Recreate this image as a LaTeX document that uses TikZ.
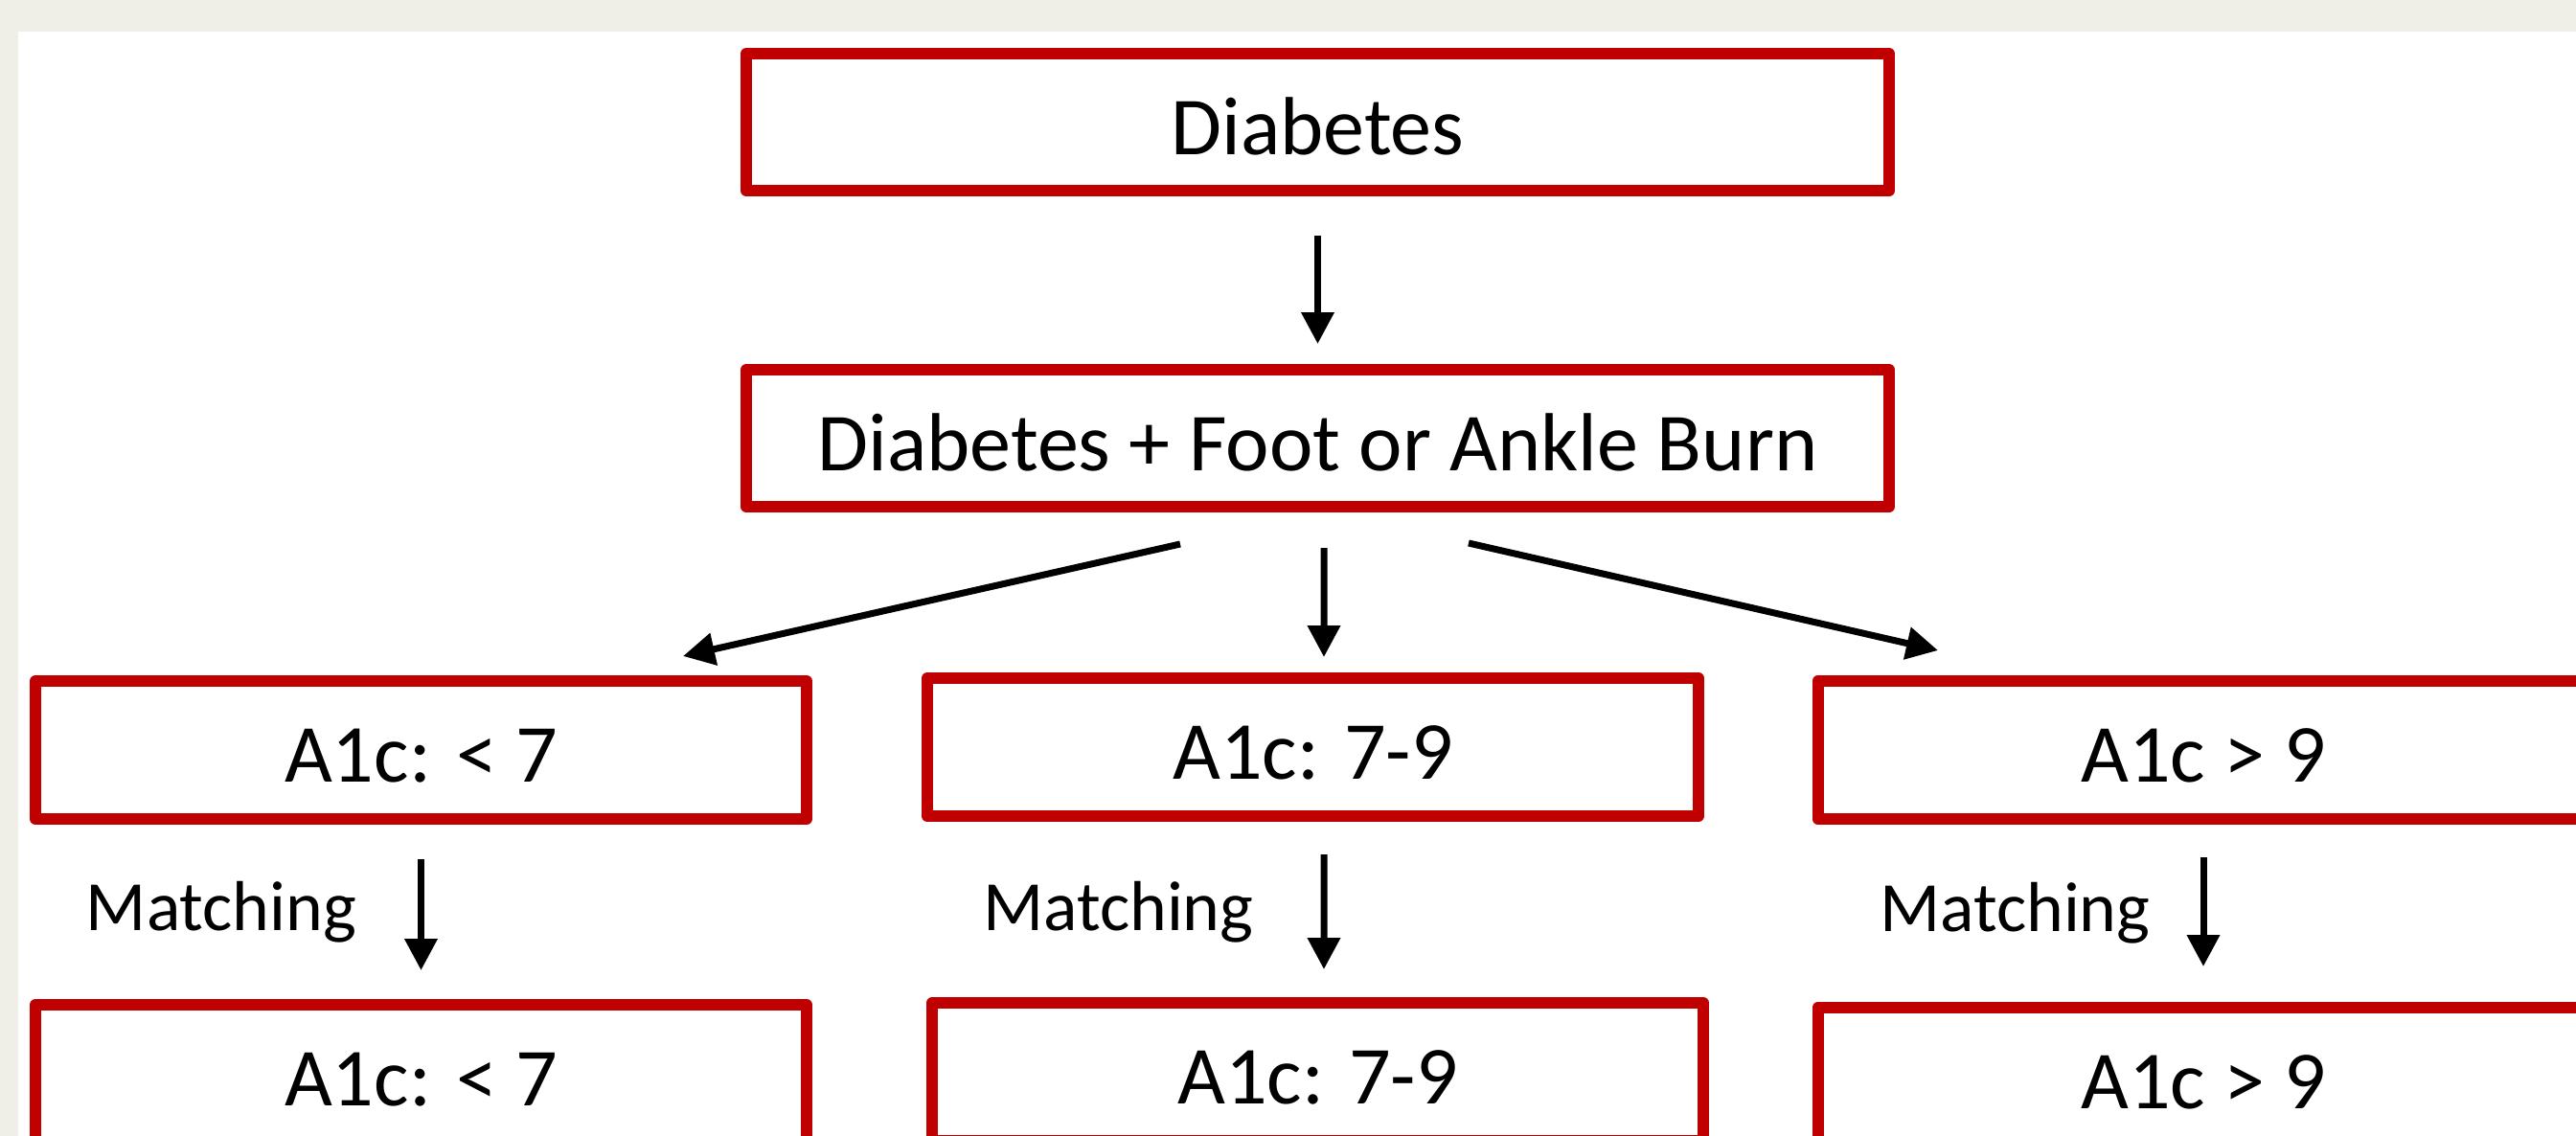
\documentclass[tikz,border=0pt]{standalone}
\usepackage{fontspec}
\setmainfont{Carlito}
\usetikzlibrary{arrows.meta,positioning}
\definecolor{boxred}{RGB}{192,0,0}
\definecolor{paper}{RGB}{239,239,231}
\tikzset{
  >={Triangle[length=3.3mm,width=3.3mm]},
  stage/.style={draw=boxred,line width=1.2mm,line join=round,fill=white,
    minimum width=#1,minimum height=14.4mm,inner sep=0pt,outer sep=0pt,
    font=\fontsize{24.5}{29}\selectfont,text height=6.7mm,text depth=0pt},
  stage/.default=80.5mm,
  flow/.style={->,line width=0.7mm,draw=black},
  tag/.style={font=\fontsize{21}{25}\selectfont,inner sep=0pt},
}

\begin{document}
\begin{tikzpicture}
  \useasboundingbox (0,0) rectangle (26.89,-11.86);
  \clip (0,0) rectangle (26.89,-11.86);
  \fill[paper] (0,0) rectangle (26.89,-11.86);
  \fill[white] (0.19,-0.33) rectangle (26.89,-11.86);

  \node[stage=119.3mm,minimum height=14.3mm] (dia) at (13.755,-1.275) {Diabetes};
  \node[stage=119.3mm,minimum height=14.3mm] (burn) at (13.755,-4.575) {Diabetes + Foot or Ankle Burn};

  \node[stage] (lowA) at (4.395,-7.83) {A1c: < 7};
  \node[stage] (midA) at (13.705,-7.80) {A1c: 7-9};
  \node[stage] (highA) at (23.0,-7.83) {A1c > 9};
  \node[stage] (lowB) at (4.395,-11.21) {A1c: < 7};
  \node[stage] (midB) at (13.755,-11.19) {A1c: 7-9};
  \node[stage] (highB) at (23.0,-11.24) {A1c > 9};

  \draw[flow,shorten <=4.7mm,shorten >=2.7mm] (dia) -- (burn);
  \draw[flow] ([xshift=-14.35mm,yshift=-3.9mm]burn.south) -- ([xshift=27.35mm,yshift=2.6mm]lowA.north);
  \draw[flow] ([xshift=0.65mm,yshift=-4.3mm]burn.south) -- ([xshift=1.15mm,yshift=2.2mm]midA.north);
  \draw[flow] ([xshift=15.75mm,yshift=-3.8mm]burn.south) -- ([xshift=-27.7mm,yshift=3.2mm]highA.north);

  % matching step
  \draw[flow,shorten <=4.2mm,shorten >=3.6mm] (lowA) -- node[tag,left=6.4mm] {Matching} (lowB);
  \draw[flow] ([xshift=1.15mm,yshift=-4.0mm]midA.south) -- node[tag,left=7mm] {Matching} ([xshift=0.65mm,yshift=3.5mm]midB.north);
  \draw[flow,shorten <=4.0mm,shorten >=4.3mm] (highA) -- node[tag,left=5.2mm] {Matching} (highB);
\end{tikzpicture}
\end{document}
